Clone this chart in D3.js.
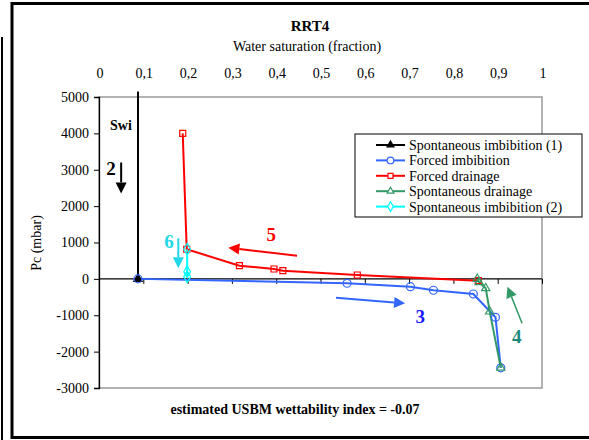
<!DOCTYPE html>
<html><head><meta charset="utf-8">
<script src="https://cdn.jsdelivr.net/npm/d3@7"></script>
<style>body{margin:0;background:#fff;} svg text{font-family:"Liberation Serif","Times New Roman","DejaVu Serif",serif !important;}</style>
</head><body>
<svg id="c" width="589" height="440" font-family="Liberation Serif"></svg>
<script>
const xTicks = [0,0.1,0.2,0.3,0.4,0.5,0.6,0.7,0.8,0.9,1];
const xTickLabels = ["0","0,1","0,2","0,3","0,4","0,5","0,6","0,7","0,8","0,9","1"];
const yTicks = [-3000,-2000,-1000,0,1000,2000,3000,4000,5000];

const spontImb1X = [0.088, 0.088];
const spontImb1Y = [5150, 0];
const forcedImbX = [0.088, 0.56, 0.703, 0.755, 0.845, 0.895, 0.907];
const forcedImbY = [0, -121, -214, -313, -415, -1056, -2445];
const forcedDrnX = [0.189, 0.198, 0.317, 0.395, 0.415, 0.583, 0.856];
const forcedDrnY = [4000, 814, 363, 272, 225, 107, -50];
const spontDrnX = [0.854, 0.858, 0.873, 0.882, 0.907];
const spontDrnY = [0, -93, -258, -900, -2445];
const spontImb2X = [0.199, 0.199, 0.199];
const spontImb2Y = [814, 198, 60];

const seriesNames = ["Spontaneous imbibition (1)","Forced imbibition","Forced drainage","Spontaneous drainage","Spontaneous imbibition (2)"];

// annotations (data coordinates)
const annLabels = ["2","6","5","3","4"];
const annLabelX = [0.027, 0.158, 0.389, 0.725, 0.943];
const annLabelY = [2850, 850, 1050, -1220, -1770];
const arrowFromX = [0.05, 0.179, 0.447, 0.535, 0.955];
const arrowFromY = [3200, 1116, 638, -517, -1221];
const arrowToX = [0.05, 0.179, 0.292, 0.691, 0.922];
const arrowToY = [2350, 291, 858, -671, -214];

const svg = d3.select("#c");
// outer frames
svg.append("rect").attr("x",12).attr("y",3.5).attr("width",590).attr("height",434)
  .attr("fill","none").attr("stroke","#000").attr("stroke-width",3);
svg.append("line").attr("x1",2).attr("x2",2).attr("y1",37).attr("y2",440).attr("stroke","#000").attr("stroke-width",2);

const L=99,R=542,T=97,B=388;
const x = d3.scaleLinear().domain([0,1]).range([L,R]);
const y = d3.scaleLinear().domain([-3000,5000]).range([B,T]);

// plot border
svg.append("rect").attr("x",L).attr("y",T).attr("width",R-L).attr("height",B-T)
  .attr("fill","none").attr("stroke","#999").attr("stroke-width",1.5);

// y axis
const yAxis = svg.append("g").attr("transform",`translate(${L},0)`)
  .call(d3.axisLeft(y).tickValues(yTicks).tickSize(5).tickPadding(5).tickFormat(d => String(d)));
yAxis.attr("font-family",null).attr("font-size",null);
yAxis.select(".domain").attr("stroke","#000").attr("stroke-width",1.3);
yAxis.selectAll(".tick line").attr("stroke","#000");
yAxis.selectAll("text").attr("font-size",14).attr("fill","#000");

// x axis at y=0, ticks downward; labels at top
const xAxis = svg.append("g").attr("transform",`translate(0,${y(0)})`)
  .call(d3.axisBottom(x).tickValues(xTicks).tickSize(5).tickFormat(""));
xAxis.select(".domain").attr("stroke","#000").attr("stroke-width",1.3).attr("d",`M${L},0H${R}`);
xAxis.selectAll(".tick line").attr("stroke","#000");
svg.append("g").selectAll("text").data(xTicks).join("text")
  .attr("x",d=>x(d)+1).attr("y",78).attr("text-anchor","middle").attr("font-size",14)
  .text((d,i)=>xTickLabels[i]);

// titles
svg.append("text").attr("x",310).attr("y",31).attr("text-anchor","middle").attr("font-size",15).attr("font-weight","bold").text("RRT4");
svg.append("text").attr("x",307).attr("y",51).attr("text-anchor","middle").attr("font-size",14).text("Water saturation (fraction)");
svg.append("text").attr("transform","translate(41,243) rotate(-90)").attr("text-anchor","middle").attr("font-size",14).text("Pc (mbar)");
svg.append("text").attr("x",295).attr("y",414).attr("text-anchor","middle").attr("font-size",14).attr("font-weight","bold").text("estimated USBM wettability index = -0.07");
svg.append("text").attr("x",110).attr("y",130).attr("font-size",14).attr("font-weight","bold").text("Swi");

const series = [
  {xs:spontImb1X, ys:spontImb1Y, color:"#000", marker:"tri", fill:"#000"},
  {xs:forcedImbX, ys:forcedImbY, color:"#3366FF", marker:"circle", fill:"none"},
  {xs:forcedDrnX, ys:forcedDrnY, color:"#FF0000", marker:"square", fill:"none"},
  {xs:spontDrnX, ys:spontDrnY, color:"#339966", marker:"tri", fill:"none"},
  {xs:spontImb2X, ys:spontImb2Y, color:"#00FFFF", marker:"diamond", fill:"none"}
];
const symMap = {tri:d3.symbolTriangle, circle:d3.symbolCircle, square:d3.symbolSquare, diamond:d3.symbolDiamond};
const sizeMap = {tri:30, circle:50, square:36, diamond:40};
const line = d3.line().x(d=>x(d[0])).y(d=>y(d[1]));

series.forEach((s,si)=>{
  const pts = s.xs.map((v,i)=>[v,s.ys[i]]);
  svg.append("path").attr("d",line(pts)).attr("fill","none").attr("stroke",s.color).attr("stroke-width",2);
});
series.forEach((s,si)=>{
  const pts = s.xs.map((v,i)=>[v,s.ys[i]]);
  const mpts = si===0 ? pts.slice(1) : pts;
  svg.append("g").selectAll("path").data(mpts).join("path")
    .attr("transform",d=>`translate(${x(d[0])},${y(d[1])})`)
    .attr("d",d3.symbol().type(symMap[s.marker]).size(sizeMap[s.marker]))
    .attr("fill",s.fill==="none"?"none":s.fill).attr("stroke",s.color).attr("stroke-width",1.2);
});

// annotations
const annColors = ["#000","#22D8E8","#FF0000","#1a1aff","#1a8a7a"];
const arrowColors = ["#000","#22D8E8","#FF0000","#3366FF","#339966"];
annLabels.forEach((t,i)=>{
  svg.append("text").attr("x",x(annLabelX[i])).attr("y",y(annLabelY[i])).attr("text-anchor","middle")
    .attr("font-size",19).attr("font-weight","bold").attr("fill",annColors[i]).text(t);
  const x1=x(arrowFromX[i]), y1=y(arrowFromY[i]), x2=x(arrowToX[i]), y2=y(arrowToY[i]);
  const ang = Math.atan2(y2-y1,x2-x1);
  const hl = 11, hw = 5.5;
  const bx = x2 - hl*Math.cos(ang), by = y2 - hl*Math.sin(ang);
  svg.append("line").attr("x1",x1).attr("y1",y1).attr("x2",bx).attr("y2",by)
    .attr("stroke",arrowColors[i]).attr("stroke-width",i===4?1.5:2);
  const px = -Math.sin(ang), py = Math.cos(ang);
  svg.append("path").attr("d",`M${x2},${y2}L${bx+px*hw},${by+py*hw}L${bx-px*hw},${by-py*hw}Z`).attr("fill",arrowColors[i]);
});

// legend
const lg = svg.append("g");
lg.append("rect").attr("x",355).attr("y",134).attr("width",227).attr("height",83).attr("fill","#fff").attr("stroke","#000").attr("stroke-width",1);
series.forEach((s,i)=>{
  const cy = 145 + i*15.4;
  lg.append("line").attr("x1",376).attr("x2",405).attr("y1",cy).attr("y2",cy).attr("stroke",s.color).attr("stroke-width",2);
  lg.append("path").attr("transform",`translate(390.5,${cy})`)
    .attr("d",d3.symbol().type(symMap[s.marker]).size(sizeMap[s.marker]*0.7))
    .attr("fill",s.fill==="none"?"#fff":s.fill).attr("stroke",s.color).attr("stroke-width",1.2);
  lg.append("text").attr("x",409).attr("y",cy+5).attr("font-size",14).text(seriesNames[i]);
});
</script>
</body></html>
